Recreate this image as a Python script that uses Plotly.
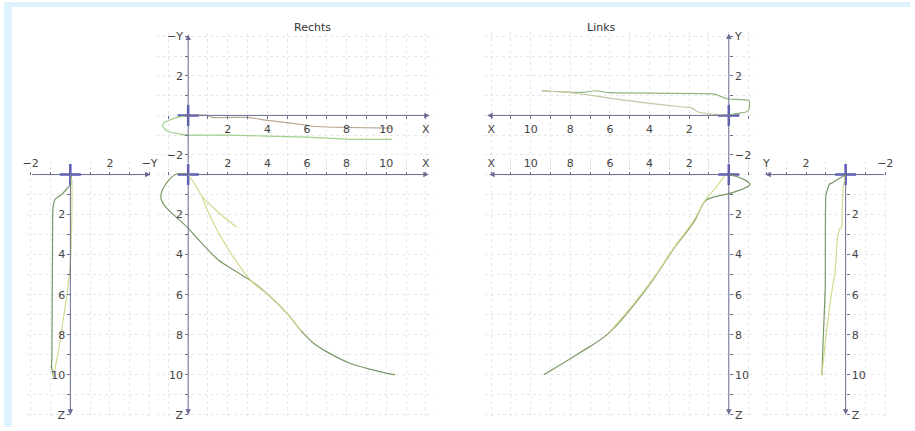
import plotly.graph_objects as go

W, H = 915, 431
PX_X = 20.0   # pixels per unit along the X axes
PX_Y = 20.0   # pixels per unit along the Y axes of the top views
PX_Z = 20.3   # pixels per unit along the Z axes

AXIS = "#6b6b93"
CROSS = "#5656c8"
GRID = "#e8e8e8"
TEXT = "#444444"
DARK = "#7a9866"
LIGHT = "#cfdc8e"
FONT = "DejaVu Sans"
M = "\u2212"

# ---------------- trajectories ----------------
# Rechts, top view (X against -Y)
R_TOP_DARK_X = [0, -0.55, -1.2, -1.3, -1.05, -0.4, 0.0, 2.0, 4.0, 6.0, 7.0, 8.0, 9.0, 10.3]
R_TOP_DARK_NY = [0, -0.1, -0.35, -0.55, -0.8, -0.95, -1.0, -1.0, -1.05, -1.1, -1.15, -1.2, -1.22, -1.22]
R_TOP_LIGHT_X = [0, 1.0, 1.2, 3.0, 4.0, 5.3, 6.3, 7.3, 10.3]
R_TOP_LIGHT_NY = [0, 0, -0.1, -0.1, -0.25, -0.4, -0.55, -0.6, -0.65]

# Rechts, side view (X against Z)
R_SIDE_DARK_X = [0, -0.65, -1.38, 0.03, 0.8, 1.53, 2.4, 3.2, 4.03, 5.03, 5.7, 6.3, 7.03, 8.2, 9.37, 10.45]
R_SIDE_DARK_Z = [0, 0, 1.15, 2.71, 3.55, 4.27, 4.83, 5.33, 5.99, 6.98, 7.8, 8.4, 8.87, 9.44, 9.77, 10.01]
R_SIDE_LIGHT_X = [0, 0.35, 0.7, 1.5, 2.45, None, 0.7, 1.1, 2.0, 3.2, 4.03, 5.03, 5.7]
R_SIDE_LIGHT_Z = [0, 0.49, 1.08, 1.87, 2.63, None, 1.08, 2.07, 3.69, 5.33, 6.0, 6.98, 7.8]

# Rechts, front view (-Y against Z)
R_FRONT_DARK_NY = [0, 0.07, -0.43, -0.77, -0.88, -0.9, -0.92, -0.93, -0.95, -0.85]
R_FRONT_DARK_Z = [0, 0.39, 0.99, 1.23, 1.72, 3.94, 6.9, 9.16, 9.6, 10.1]
R_FRONT_LIGHT_NY = [0, 0.07, 0.07, 0.0, -0.18, -0.4, -0.6, -0.85]
R_FRONT_LIGHT_Z = [0, 0.39, 2.36, 4.43, 6.06, 7.49, 8.82, 10.05]

# Links, top view (X against Y)
L_TOP_DARK_X = [0, -0.28, -0.87, -1.03, -1.03, 0.05, 0.72, 3.0, 6.0, 6.8, 7.3, 9.45]
L_TOP_DARK_Y = [0, 0.08, 0.17, 0.33, 0.75, 0.83, 1.08, 1.12, 1.15, 1.25, 1.17, 1.25]
L_TOP_LIGHT_X = [0, 0.6, 1.05, 1.55, 1.88, 3.0, 4.5, 5.5, 6.85, 8.0, 9.45]
L_TOP_LIGHT_Y = [0, 0.05, 0.08, 0.17, 0.38, 0.5, 0.67, 0.8, 1.0, 1.15, 1.25]

# Links, side view (X against Z)
L_SIDE_DARK_X = [0, -0.57, -1.07, -0.23, 0.77, 1.18, 1.77, 2.77, 3.77, 4.77, 6.1, 7.6, 9.35]
L_SIDE_DARK_Z = [0, 0.16, 0.49, 0.89, 1.13, 1.31, 2.38, 3.69, 5.17, 6.48, 7.96, 8.95, 10.0]
L_SIDE_LIGHT_X = [0.23, 0.6, 1.15, 1.77, 2.75, 3.75, 4.75, 6.0]
L_SIDE_LIGHT_Z = [0.08, 0.59, 1.23, 2.3, 3.62, 5.1, 6.4, 7.85]

# Links, front view (Y against Z)
L_FRONT_DARK_Y = [0, 0.67, 0.83, 1.0, 1.03, 1.13, 1.2]
L_FRONT_DARK_Z = [0, 0.41, 0.49, 1.06, 5.66, 8.13, 10.02]
L_FRONT_LIGHT_Y = [0, 0.12, 0.17, 0.2, 0.3, 0.42, 0.53, 0.75, 1.0, 1.2]
L_FRONT_LIGHT_Z = [0, 0.57, 1.56, 2.63, 2.71, 3.2, 4.83, 6.16, 8.13, 10.02]

# ---------------- tick labels ----------------
LONG_VALS = [2, 4, 6, 8, 10, 12]
X_LABELS = ["2", "4", "6", "8", "10", "X"]
Z_LABELS = ["2", "4", "6", "8", "10", "Z"]
SHORT_VALS = [-2, 2, 4]
NEG_Y_LABELS = [M + "2", "2", M + "Y"]
Y_LABELS = [M + "2", "2", "Y"]

# ---------------- panel layout ----------------
# ox/oy: pixel position of the origin; xdir/ydir: +1 right/up, -1 left/down
panels = [
    dict(ox=186, oy=115, xr=(-1.6, 12.35), xdir=1, yr=(-2.6, 4.2), ydir=1, ys=PX_Y,
         xside="bottom", yside="left", xt=(LONG_VALS, X_LABELS), yt=(SHORT_VALS, NEG_Y_LABELS),
         xa=(-0.5, 12.2), ya=(-2.5, 4.1), smooth=0.4,
         lines=[(R_TOP_DARK_X, R_TOP_DARK_NY, "#9fd08c"), (R_TOP_LIGHT_X, R_TOP_LIGHT_NY, "#b8a794")]),
    dict(ox=186, oy=175, xr=(-1.6, 12.35), xdir=1, yr=(-0.7, 12.15), ydir=-1, ys=PX_Z,
         xside="top", yside="left", xt=(LONG_VALS, X_LABELS), yt=(LONG_VALS, Z_LABELS),
         xa=(-0.5, 12.15), ya=(-0.6, 12.0), smooth=1.0,
         lines=[(R_SIDE_DARK_X, R_SIDE_DARK_Z, DARK), (R_SIDE_LIGHT_X, R_SIDE_LIGHT_Z, LIGHT)]),
    dict(ox=67, oy=175, xr=(-2.2, 4.15), xdir=1, yr=(-0.7, 12.15), ydir=-1, ys=PX_Z,
         xside="top", yside="left", xt=(SHORT_VALS, NEG_Y_LABELS), yt=(LONG_VALS, Z_LABELS),
         xa=(-2.0, 4.05), ya=(-0.5, 12.0), smooth=0.4,
         lines=[(R_FRONT_DARK_NY, R_FRONT_DARK_Z, DARK), (R_FRONT_LIGHT_NY, R_FRONT_LIGHT_Z, LIGHT)]),
    dict(ox=732, oy=115, xr=(-1.3, 12.35), xdir=-1, yr=(-2.6, 4.25), ydir=1, ys=PX_Y,
         xside="bottom", yside="right", xt=(LONG_VALS, X_LABELS), yt=(SHORT_VALS, Y_LABELS),
         xa=(-0.6, 12.2), ya=(-2.5, 4.15), smooth=0.4,
         lines=[(L_TOP_DARK_X, L_TOP_DARK_Y, "#93b57e"), (L_TOP_LIGHT_X, L_TOP_LIGHT_Y, "#c6c8a2")]),
    dict(ox=732, oy=175, xr=(-1.3, 12.3), xdir=-1, yr=(-0.7, 12.15), ydir=-1, ys=PX_Z,
         xside="top", yside="right", xt=(LONG_VALS, X_LABELS), yt=(LONG_VALS, Z_LABELS),
         xa=(-0.6, 12.1), ya=(-0.6, 12.0), smooth=1.0,
         lines=[(L_SIDE_DARK_X, L_SIDE_DARK_Z, DARK), (L_SIDE_LIGHT_X, L_SIDE_LIGHT_Z, LIGHT)]),
    dict(ox=850, oy=175, xr=(-2.2, 4.15), xdir=-1, yr=(-0.7, 12.15), ydir=-1, ys=PX_Z,
         xside="top", yside="right", xt=(SHORT_VALS, Y_LABELS), yt=(LONG_VALS, Z_LABELS),
         xa=(-2.0, 4.05), ya=(-0.5, 12.0), smooth=0.3,
         lines=[(L_FRONT_DARK_Y, L_FRONT_DARK_Z, DARK), (L_FRONT_LIGHT_Y, L_FRONT_LIGHT_Z, LIGHT)]),
]

COMMON = dict(
    showline=False, zeroline=False, fixedrange=True,
    ticks="outside", ticklen=3, tickwidth=1, tickcolor=AXIS,
    tickfont=dict(family=FONT, size=11, color=TEXT),
    showgrid=True, gridcolor=GRID, griddash="dot", gridwidth=1,
    minor=dict(tickmode="linear", tick0=0, dtick=1, ticks="outside", ticklen=3,
               tickcolor=AXIS, showgrid=True, gridcolor=GRID, griddash="dot"),
)


def x_axis(p):
    lo, hi = p["xr"]
    ox = p["ox"]
    if p["xdir"] > 0:
        dom, rng = [(ox + lo * PX_X) / W, (ox + hi * PX_X) / W], [lo, hi]
    else:
        dom, rng = [(ox - hi * PX_X) / W, (ox - lo * PX_X) / W], [hi, lo]
    vals, text = p["xt"]
    return dict(domain=dom, range=rng, anchor="free", position=1 - p["oy"] / H,
                side=p["xside"], tickmode="array", tickvals=vals, ticktext=text, **COMMON)


def y_axis(p):
    lo, hi = p["yr"]
    oy, s = p["oy"], p["ys"]
    if p["ydir"] > 0:
        dom, rng = [1 - (oy - lo * s) / H, 1 - (oy - hi * s) / H], [lo, hi]
    else:
        dom, rng = [1 - (oy + hi * s) / H, 1 - (oy + lo * s) / H], [hi, lo]
    vals, text = p["yt"]
    return dict(domain=dom, range=rng, anchor="free", position=p["ox"] / W,
                side=p["yside"], tickmode="array", tickvals=vals, ticktext=text, **COMMON)


fig = go.Figure()
layout = {}
annotations = []

for k, p in enumerate(panels, start=1):
    sfx = "" if k == 1 else str(k)
    xref, yref = "x" + sfx, "y" + sfx
    layout["xaxis" + sfx] = x_axis(p)
    layout["yaxis" + sfx] = y_axis(p)

    # axis lines with arrow heads
    x0, x1 = p["xa"]
    y0, y1 = p["ya"]
    for hx, hy, tx, ty in ((x1, 0, x0, 0), (0, y1, 0, y0)):
        annotations.append(dict(x=hx, y=hy, ax=tx, ay=ty, xref=xref, yref=yref,
                                axref=xref, ayref=yref, text="", showarrow=True,
                                arrowhead=2, arrowsize=1.1, arrowwidth=1,
                                arrowcolor=AXIS, standoff=0, startstandoff=0))

    # origin marker
    fig.add_trace(go.Scatter(x=[0], y=[0], xaxis=xref, yaxis=yref, mode="markers",
                             marker=dict(symbol="cross-thin", size=15,
                                         line=dict(width=2.5, color=CROSS)),
                             cliponaxis=False, hoverinfo="skip", showlegend=False))

    for xs, ys, color in p["lines"]:
        fig.add_trace(go.Scatter(x=xs, y=ys, xaxis=xref, yaxis=yref, mode="lines",
                                 line=dict(color=color, width=1.2, shape="spline",
                                           smoothing=p["smooth"]),
                                 hoverinfo="skip", showlegend=False))

for text, px in (("Rechts", 312), ("Links", 620)):
    annotations.append(dict(x=px / W, y=1 - 17 / H, xref="paper", yref="paper",
                            text=text, showarrow=False,
                            font=dict(family=FONT, size=11, color="#333333")))

shapes = [
    dict(type="rect", xref="paper", yref="paper", x0=0, x1=8 / W, y0=0, y1=1,
         fillcolor="#dcf2fc", line=dict(width=0), layer="below"),
    dict(type="rect", xref="paper", yref="paper", x0=0, x1=1, y0=1 - 5 / H, y1=1,
         fillcolor="#dcf2fc", line=dict(width=0), layer="below"),
]

fig.update_layout(
    width=W, height=H, margin=dict(l=0, r=0, t=0, b=0),
    paper_bgcolor="white", plot_bgcolor="rgba(0,0,0,0)",
    showlegend=False, annotations=annotations, shapes=shapes,
    **layout,
)

fig.write_html("out.html")
